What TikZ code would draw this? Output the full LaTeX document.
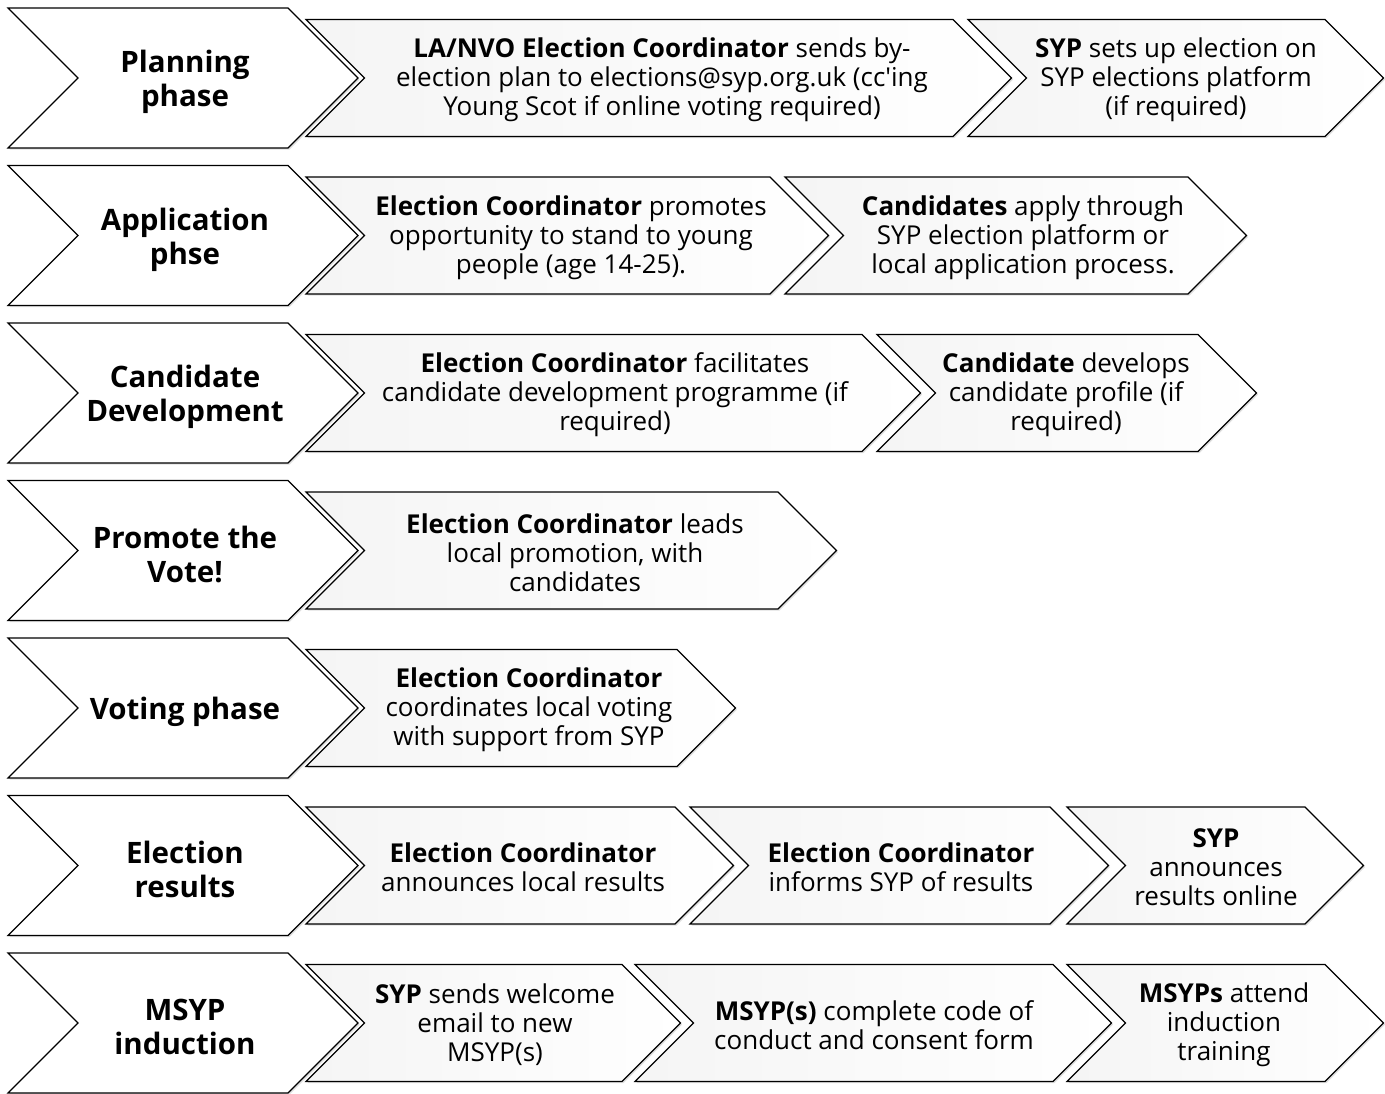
\documentclass[tikz,border=0pt]{standalone}
\usepackage{fontspec}
\setmainfont{Open Sans}
\usetikzlibrary{shadows}
\tikzset{
  chevbase/.style={draw=black, line width=1.2pt, line join=miter,
    drop shadow={opacity=0.25, shadow xshift=1.5pt, shadow yshift=-1.5pt}},
  bigchev/.style={chevbase, fill=white},
  smallchev/.style={chevbase, left color=black!4, right color=white},
  titletext/.style={font=\bfseries\fontsize{29.5}{34}\selectfont, align=center, inner sep=0pt, yshift=-3pt},
  bodytext/.style={font=\fontsize{26}{29}\selectfont, align=center, inner sep=0pt, yshift=-2pt},
}
% #1 style, #2 left x, #3 top-right x, #4 centre y, #5 half height
\newcommand\mychev[5]{%
  \path[#1] (#2,{#4-#5}) -- (#3,{#4-#5}) -- ({#3+#5},#4) -- (#3,{#4+#5})
    -- (#2,{#4+#5}) -- ({#2+#5},#4) -- cycle;}
\begin{document}
\begin{tikzpicture}[x=1pt,y=-1pt]
\useasboundingbox (0,0) rectangle (1385,1093);
% big chevrons
\foreach \i in {0,...,6}{\mychev{bigchev}{8}{288}{78+157.5*\i}{70}}
% row 1
\mychev{smallchev}{306}{953}{78}{58.5}
\mychev{smallchev}{968}{1325}{78}{58.5}
% row 2
\mychev{smallchev}{306}{770}{235.5}{58.5}
\mychev{smallchev}{785}{1188}{235.5}{58.5}
% row 3
\mychev{smallchev}{306}{862}{393}{58.5}
\mychev{smallchev}{877}{1198}{393}{58.5}
% row 4
\mychev{smallchev}{306}{778}{550.5}{58.5}
% row 5
\mychev{smallchev}{306}{677}{708}{58.5}
% row 6
\mychev{smallchev}{306}{675}{865.5}{58.5}
\mychev{smallchev}{690}{1050}{865.5}{58.5}
\mychev{smallchev}{1067}{1305}{865.5}{58.5}
% row 7
\mychev{smallchev}{306}{622}{1023}{58.5}
\mychev{smallchev}{635}{1053}{1023}{58.5}
\mychev{smallchev}{1067}{1325}{1023}{58.5}

% titles
\node[titletext] (t1) at (185,79) {Planning\\phase};
\node[titletext] (t2) at (185,236.5) {Application\\phse};
\node[titletext] (t3) at (185,394) {Candidate\\Development};
\node[titletext] (t4) at (185,551.5) {Promote the\\Vote!};
\node[titletext] (t5) at (185,709) {Voting phase};
\node[titletext] (t6) at (185,866.5) {Election\\results};
\node[titletext] (t7) at (185,1024) {MSYP\\induction};

% step texts
\node[bodytext] (s1a) at (662,78) {\textbf{LA/NVO Election Coordinator} sends by-\\election plan to elections@syp.org.uk (cc\textquotesingle ing\\Young Scot if online voting required)};
\node[bodytext] (s1b) at (1176,78) {\textbf{SYP} sets up election on\\SYP elections platform\\(if required)};
\node[bodytext] (s2a) at (571,235.5) {\textbf{Election Coordinator} promotes\\opportunity to stand to young\\people (age 14-25).};
\node[bodytext] (s2b) at (1023,235.5) {\textbf{Candidates} apply through\\SYP election platform or\\local application process.};
\node[bodytext] (s3a) at (615,393) {\textbf{Election Coordinator} facilitates\\candidate development programme (if\\required)};
\node[bodytext] (s3b) at (1066,393) {\textbf{Candidate} develops\\candidate profile (if\\required)};
\node[bodytext] (s4a) at (575,550.5) {\textbf{Election Coordinator} leads\\local promotion, with\\candidates};
\node[bodytext] (s5a) at (529,708) {\textbf{Election Coordinator}\\coordinates local voting\\with support from SYP};
\node[bodytext] (s6a) at (523,865.5) {\textbf{Election Coordinator}\\announces local results};
\node[bodytext] (s6b) at (901,865.5) {\textbf{Election Coordinator}\\informs SYP of results};
\node[bodytext] (s6c) at (1216,865.5) {\textbf{SYP}\\announces\\results online};
\node[bodytext] (s7a) at (495,1023) {\textbf{SYP} sends welcome\\email to new\\MSYP(s)};
\node[bodytext] (s7b) at (874,1023) {\textbf{MSYP(s)} complete code of\\conduct and consent form};
\node[bodytext] (s7c) at (1224,1023) {\textbf{MSYPs} attend\\induction\\training};
\end{tikzpicture}
\end{document}
